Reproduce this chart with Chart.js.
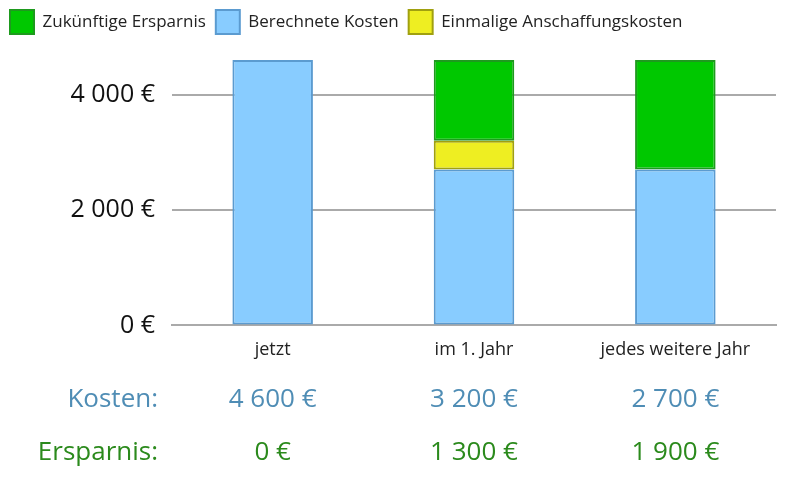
<!DOCTYPE html>
<html>
<head>
<meta charset="utf-8">
<script src="https://cdn.jsdelivr.net/npm/chart.js@4"></script>
<style>
  html, body { margin: 0; background: #fff; }
  #wrap { width: 800px; height: 500px; }
</style>
</head>
<body>
<div id="wrap"><canvas id="c"></canvas></div>
<script>
const categories = ["jetzt", "im 1. Jahr", "jedes weitere Jahr"];
const kostenBase = [4600, 2700, 2700];
const anschaffung = [0, 500, 0];
const ersparnisBar = [0, 1400, 1900];
const kostenText = ["4 600 €", "3 200 €", "2 700 €"];
const ersparnisText = ["0 €", "1 300 €", "1 900 €"];
const yTicks = [0, 2000, 4000];

const font = "'Open Sans', 'Noto Sans', sans-serif";

// draw the two summary rows below the x axis
const rowsPlugin = {
  id: "rows",
  afterDraw(chart) {
    const ctx = chart.ctx;
    const x = chart.scales.x;
    ctx.save();
    ctx.font = "26px " + font;
    ctx.textBaseline = "middle";
    const rows = [
      { label: "Kosten:", vals: kostenText, color: "#4f8db5", y: 400 },
      { label: "Ersparnis:", vals: ersparnisText, color: "#2b8a1c", y: 453 }
    ];
    rows.forEach((r) => {
      ctx.fillStyle = r.color;
      ctx.textAlign = "right";
      ctx.fillText(r.label, 158, r.y);
      ctx.textAlign = "center";
      r.vals.forEach((v, i) => ctx.fillText(v, x.getPixelForValue(i), r.y));
    });
    ctx.restore();
  }
};

new Chart(document.getElementById("c"), {
  type: "bar",
  data: {
    labels: categories,
    datasets: [
      { label: "Berechnete Kosten", data: kostenBase, backgroundColor: "#88ccff", borderColor: "#5b9bd0", borderWidth: 2, borderSkipped: false },
      { label: "Einmalige Anschaffungskosten", data: anschaffung, backgroundColor: "#eeee22", borderColor: "#a0a010", borderWidth: 2, borderSkipped: false },
      { label: "Zukünftige Ersparnis", data: ersparnisBar, backgroundColor: "#00c800", borderColor: "#1e9a1e", borderWidth: 2, borderSkipped: false }
    ]
  },
  options: {
    responsive: true,
    maintainAspectRatio: false,
    animation: false,
    datasets: { bar: { barPercentage: 0.4, categoryPercentage: 1 } },
    layout: { padding: { top: 0, right: 24, bottom: 133, left: 0 } },
    plugins: {
      legend: {
        position: "top",
        align: "start",
        labels: {
          font: { family: font, size: 17 },
          color: "#222",
          boxWidth: 24,
          boxHeight: 24,
          padding: 10,
          sort: (a, b) => b.datasetIndex === 2 ? 1 : (a.datasetIndex === 2 ? -1 : a.datasetIndex - b.datasetIndex)
        }
      },
      tooltip: { enabled: false }
    },
    scales: {
      x: {
        stacked: true,
        grid: { display: false },
        border: { color: "#aaa", width: 2 },
        ticks: { font: { family: font, size: 18 }, color: "#222", padding: 6 }
      },
      y: {
        stacked: true,
        min: 0,
        max: 4600,
        afterBuildTicks: (s) => { s.ticks = yTicks.map((v) => ({ value: v })); },
        afterFit: (s) => { s.width = 172; },
        grid: { color: "#aaa", lineWidth: 2, drawTicks: true, tickLength: 14, tickColor: "rgba(0,0,0,0)" },
        border: { display: false },
        ticks: {
          font: { family: font, size: 25 },
          color: "#111",
          callback: (v) => String(v).replace(/\B(?=(\d{3})+(?!\d))/g, " ") + " €"
        }
      }
    }
  },
  plugins: [rowsPlugin, {
    id: "legendGap",
    beforeInit(chart) {
      const fit = chart.legend.fit;
      chart.legend.fit = function () { fit.call(this); this.height += 16; };
    }
  }]
});
</script>
</body>
</html>
